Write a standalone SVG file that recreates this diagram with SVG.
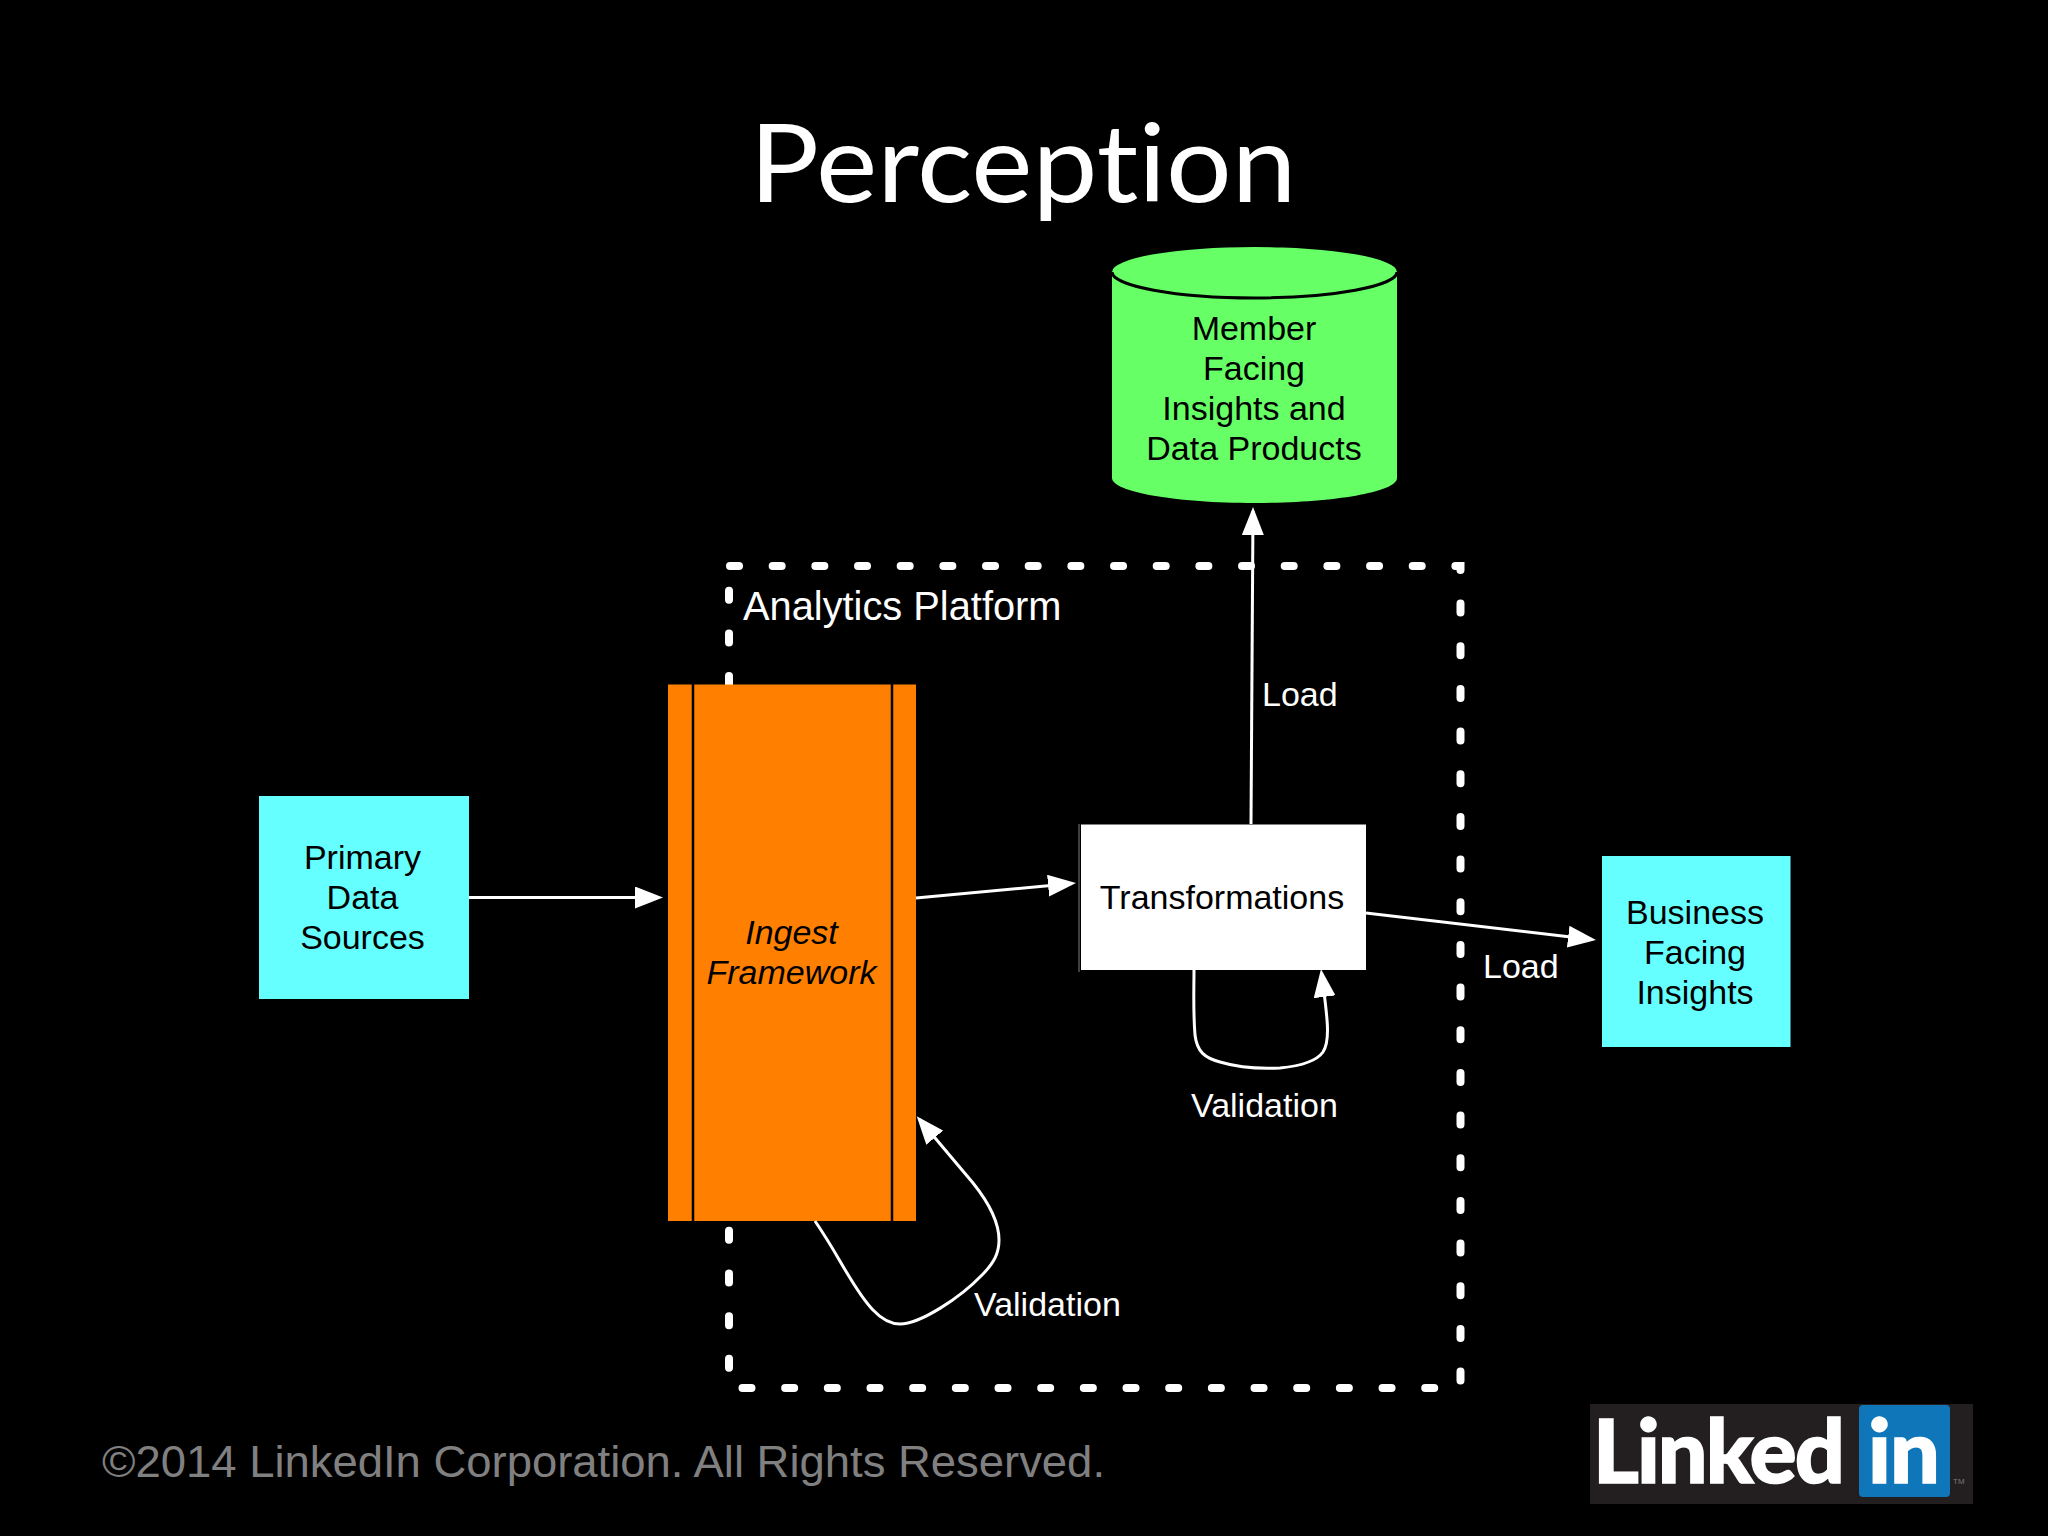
<svg xmlns="http://www.w3.org/2000/svg" width="2048" height="1536" viewBox="0 0 2048 1536">
<style>
text{font-family:"Liberation Sans",Arial,sans-serif}
.lb{font-size:34px;fill:#000;text-anchor:middle}
.w{font-size:34px;fill:#fff}
.conn{fill:none;stroke:#fff;stroke-width:3;marker-end:url(#ah)}
.logo{font-family:Lato,"Liberation Sans",sans-serif;font-weight:900;font-size:88px;fill:#fff;stroke:#fff;stroke-width:1.500}
</style>
<defs><marker id="ah" viewBox="0 0 28 22" refX="24" refY="11" markerWidth="28" markerHeight="22" markerUnits="userSpaceOnUse" orient="auto"><path d="M0 0L28 11L0 22Z" fill="#fff"/></marker></defs>
<rect width="2048" height="1536" fill="#000"/>
<text id="title" x="1023" y="202" text-anchor="middle" style="font-family:Lato,'Liberation Sans',sans-serif;font-size:108px;font-variant-ligatures:none" fill="#fff" textLength="547" lengthAdjust="spacingAndGlyphs">Perception</text>
<g id="analytics-platform">
<path d="M730 566H1460.500V1388H729V566Z" fill="none" stroke="#fff" stroke-width="8" stroke-linecap="round" stroke-dasharray="9 33.67"/>
<text x="743" y="620" style="font-size:39.800px" fill="#fff">Analytics Platform</text>
</g>
<g id="member-facing">
<path d="M1112 272V478C1112 492 1176 503 1254.500 503S1397 492 1397 478V272Z" fill="#66ff66"/>
<ellipse cx="1254.500" cy="272" rx="142.500" ry="25" fill="#66ff66"/>
<path d="M1112 272C1112 286 1176 298 1254.500 298S1397 286 1397 272" fill="none" stroke="#000" stroke-width="3"/>
<text class="lb" x="1254" y="340">Member</text>
<text class="lb" x="1254" y="380">Facing</text>
<text class="lb" x="1254" y="420">Insights and</text>
<text class="lb" x="1254" y="460">Data Products</text>
</g>
<g id="primary-data-sources">
<rect x="259" y="796" width="210" height="203" fill="#66ffff"/>
<text class="lb" x="362.500" y="869">Primary</text>
<text class="lb" x="362.500" y="909">Data</text>
<text class="lb" x="362.500" y="949">Sources</text>
</g>
<g id="ingest-framework">
<rect x="668" y="684.500" width="248" height="536.500" fill="#ff8000"/>
<path d="M693 684V1221M892 684V1221" stroke="#000" stroke-width="2.500"/>
<text class="lb" x="791.500" y="944" font-style="italic">Ingest</text>
<text class="lb" x="791.500" y="984" font-style="italic">Framework</text>
</g>
<g id="transformations">
<path d="M1079 824V972" stroke="#555" stroke-width="1.500"/>
<rect x="1081" y="824.500" width="285" height="145.500" fill="#fff"/>
<text class="lb" x="1222" y="909">Transformations</text>
</g>
<g id="business-facing">
<rect x="1602" y="856" width="188.500" height="191" fill="#66ffff"/>
<text class="lb" x="1695" y="924">Business</text>
<text class="lb" x="1695" y="964">Facing</text>
<text class="lb" x="1695" y="1004">Insights</text>
</g>
<g id="connectors">
<path class="conn" d="M469 897.500H659"/>
<path class="conn" d="M916 898L1072 883.400"/>
<path class="conn" d="M1366 913L1592 939.500"/>
<path class="conn" d="M1251 824L1253 511"/>
<path class="conn" d="M1194 970C1194 990 1193 1010 1195 1035C1197 1052 1205 1058 1220 1062C1240 1068 1260 1069 1280 1068C1300 1066 1316 1062 1323 1052C1331 1040 1327 1015 1321.500 973"/>
<path class="conn" d="M815 1221C830 1243 838 1258 847 1273C865 1303 880 1324 900 1324C920 1324 960 1298 982 1275C995 1262 999 1252 999 1240C999 1220 985 1198 973 1183L919.300 1119.300"/>
</g>
<g id="connector-labels">
<text class="w" x="1262" y="706">Load</text>
<text class="w" x="1483" y="978">Load</text>
<text class="w" x="1191" y="1117">Validation</text>
<text class="w" x="974" y="1316">Validation</text>
</g>
<text id="copyright" x="102" y="1477" style="font-size:45px" fill="#808080" textLength="1003" lengthAdjust="spacingAndGlyphs">©2014 LinkedIn Corporation. All Rights Reserved.</text>
<g id="linkedin-logo">
<rect x="1590" y="1404" width="383" height="100" fill="#231f20"/>
<rect x="1859" y="1405" width="91" height="92" rx="4" fill="#0f76b9"/>
<text class="logo" x="1593" y="1483" letter-spacing="-2">Linked</text>
<text class="logo" x="1868" y="1483" letter-spacing="-1">in</text>
<text x="1953" y="1484" style="font-size:8px" fill="#777">TM</text>
</g>
</svg>
